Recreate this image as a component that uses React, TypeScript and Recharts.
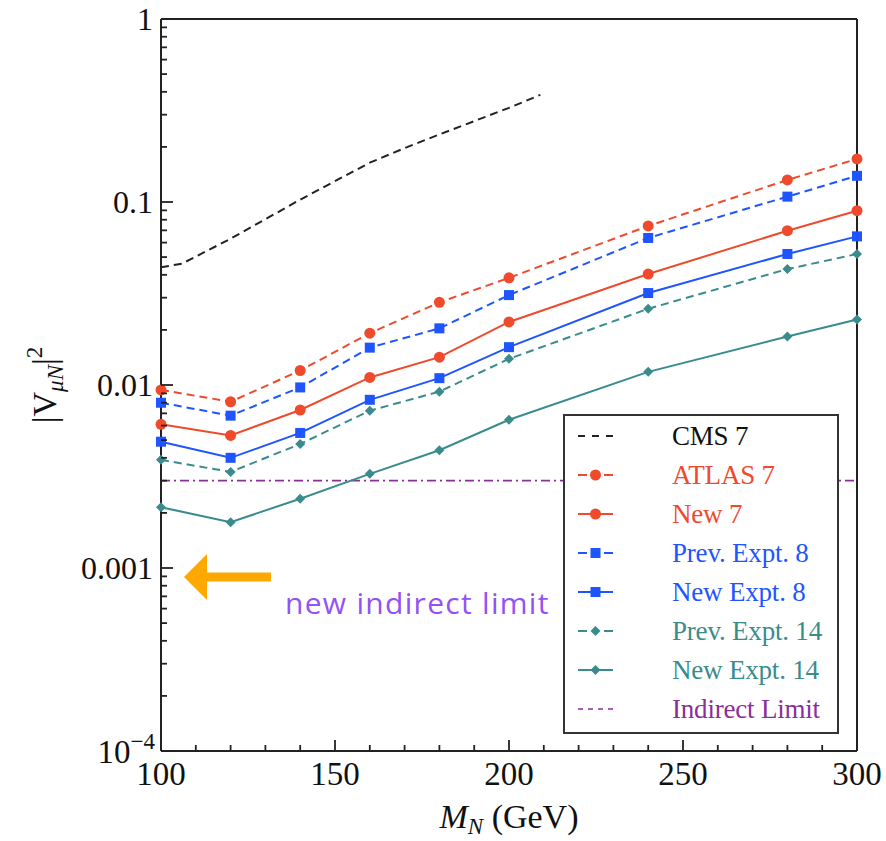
import React from "react";
import { LineChart, Line, XAxis, YAxis, ReferenceLine } from "recharts";

const SERIF = '"Liberation Serif", "Times New Roman", serif';
const AXIS_CLR = "#222";
const RED = "#EF4A2C";
const BLUE = "#1F55FF";
const TEAL = "#3A8C8C";
const PURPLE = "#8A2E99";

// heavy neutrino mass points (GeV)
const MASSES = [100, 120, 140, 160, 180, 200, 240, 280, 300];
const ATLAS_7 = [0.0094, 0.0081, 0.012, 0.0192, 0.0283, 0.0385, 0.074, 0.132, 0.172];
const NEW_7 = [0.0061, 0.0053, 0.0073, 0.011, 0.0142, 0.0221, 0.0404, 0.0697, 0.0896];
const PREV_8 = [0.008, 0.0068, 0.0097, 0.016, 0.0204, 0.031, 0.0636, 0.107, 0.139];
const NEW_8 = [0.0049, 0.004, 0.00547, 0.0083, 0.0109, 0.0161, 0.0318, 0.052, 0.0649];
const PREV_14 = [0.0039, 0.00335, 0.00476, 0.00724, 0.0092, 0.0139, 0.0261, 0.043, 0.052];
const NEW_14 = [0.00215, 0.00178, 0.00239, 0.00327, 0.0044, 0.00646, 0.0118, 0.0184, 0.0228];

const CMS_MASSES = [100, 106, 120, 140, 160, 170, 180, 200, 209];
const CMS_7 = [0.044, 0.046, 0.063, 0.103, 0.164, 0.197, 0.234, 0.327, 0.385];

const INDIRECT_LIMIT = 0.003;

const X_MAJOR = [100, 150, 200, 250, 300];
const X_MINOR_STEP = 10;
const Y_MAJOR = [1e-4, 0.001, 0.01, 0.1, 1];
const Y_LABELS = ["10^-4", "0.001", "0.01", "0.1", "1"];

const xTicks: number[] = [];
for (let m = X_MAJOR[0]; m <= X_MAJOR[X_MAJOR.length - 1]; m += X_MINOR_STEP) xTicks.push(m);

const yTicks: number[] = [];
Y_MAJOR.forEach((d, i) => {
  if (i === Y_MAJOR.length - 1) {
    yTicks.push(d);
    return;
  }
  for (let k = 1; k < 10; k++) yTicks.push(+(d * k).toPrecision(3));
});

const yMajorIndex = (v: number) => Y_MAJOR.findIndex((t) => Math.abs(t - v) / t < 1e-6);

const toPoints = (xs: number[], ys: number[]) => xs.map((m, i) => ({ m, v: ys[i] }));

const SERIES = [
  { name: "CMS 7", xs: CMS_MASSES, ys: CMS_7, color: "#222", text: "#111", dashed: true, shape: "" },
  { name: "ATLAS 7", xs: MASSES, ys: ATLAS_7, color: RED, text: RED, dashed: true, shape: "circle" },
  { name: "New 7", xs: MASSES, ys: NEW_7, color: RED, text: RED, dashed: false, shape: "circle" },
  { name: "Prev. Expt. 8", xs: MASSES, ys: PREV_8, color: BLUE, text: BLUE, dashed: true, shape: "square" },
  { name: "New Expt. 8", xs: MASSES, ys: NEW_8, color: BLUE, text: BLUE, dashed: false, shape: "square" },
  { name: "Prev. Expt. 14", xs: MASSES, ys: PREV_14, color: TEAL, text: TEAL, dashed: true, shape: "diamond" },
  { name: "New Expt. 14", xs: MASSES, ys: NEW_14, color: TEAL, text: TEAL, dashed: false, shape: "diamond" },
];

const Marker = ({ shape, cx, cy, color }: any) => {
  if (shape === "circle") return <circle cx={cx} cy={cy} r={5.5} fill={color} />;
  if (shape === "square") return <rect x={cx - 5} y={cy - 5} width={10} height={10} fill={color} />;
  if (shape === "diamond")
    return (
      <polygon
        points={`${cx},${cy - 5} ${cx + 5},${cy} ${cx},${cy + 5} ${cx - 5},${cy}`}
        fill={color}
      />
    );
  return null;
};

const LeftTick = (props: any) => {
  const { x, y, payload } = props;
  const idx = yMajorIndex(payload.value);
  const label = idx >= 0 ? Y_LABELS[idx] : "";
  return (
    <g>
      <line x1={x} x2={x + (idx >= 0 ? 12 : 6)} y1={y} y2={y} stroke={AXIS_CLR} strokeWidth={1.8} />
      {label.startsWith("10^") ? (
        <text x={x - 6} y={y} dy={12} textAnchor="end" fontFamily={SERIF} fontSize={33} fill="#111">
          <tspan>10</tspan>
          <tspan dy={-14} fontSize={23}>
            {"\u2212" + label.slice(4)}
          </tspan>
        </text>
      ) : label ? (
        <text x={x - 8} y={y} dy={11} textAnchor="end" fontFamily={SERIF} fontSize={32} fill="#111">
          {label}
        </text>
      ) : null}
    </g>
  );
};

const RightTick = (props: any) => {
  const { x, y, payload } = props;
  const major = yMajorIndex(payload.value) >= 0;
  return <line x1={x} x2={x - (major ? 12 : 6)} y1={y} y2={y} stroke={AXIS_CLR} strokeWidth={1.8} />;
};

const BottomTick = (props: any) => {
  const { x, y, payload } = props;
  const major = X_MAJOR.includes(payload.value);
  return (
    <g>
      <line x1={x} x2={x} y1={y} y2={y - (major ? 11 : 6)} stroke={AXIS_CLR} strokeWidth={1.8} />
      {major && (
        <text x={x} y={y + 34} textAnchor="middle" fontFamily={SERIF} fontSize={33} fill="#111">
          {payload.value}
        </text>
      )}
    </g>
  );
};

const TopTick = (props: any) => {
  const { x, y, payload } = props;
  const major = X_MAJOR.includes(payload.value);
  return <line x1={x} x2={x} y1={y} y2={y + (major ? 11 : 6)} stroke={AXIS_CLR} strokeWidth={1.8} />;
};

const axisLine = { stroke: AXIS_CLR, strokeWidth: 2 };

const LEGEND_TOP = 436;
const LEGEND_STEP = 39;

const LegendBox = () => {
  const rows = [
    ...SERIES.map((s) => ({ name: s.name, color: s.color, text: s.text, dashed: s.dashed, shape: s.shape, kind: "series" })),
    { name: "Indirect Limit", color: PURPLE, text: PURPLE, dashed: true, shape: "", kind: "limit" },
  ];
  return (
    <g>
      <rect x={564} y={415} width={274} height={318} fill="#fff" stroke="#333" strokeWidth={2} />
      {rows.map((r, i) => {
        const cy = LEGEND_TOP + i * LEGEND_STEP;
        let swatch;
        if (r.kind === "limit") {
          swatch = <line x1={578} x2={613} y1={cy} y2={cy} stroke={r.color} strokeWidth={1.6} strokeDasharray="5 5" />;
        } else if (!r.shape) {
          swatch = <line x1={578} x2={613} y1={cy} y2={cy} stroke={r.color} strokeWidth={2} strokeDasharray="7 7" />;
        } else if (r.dashed) {
          swatch = (
            <g>
              <line x1={578} x2={587} y1={cy} y2={cy} stroke={r.color} strokeWidth={2} />
              <line x1={604} x2={613} y1={cy} y2={cy} stroke={r.color} strokeWidth={2} />
              <Marker shape={r.shape} cx={595.5} cy={cy} color={r.color} />
            </g>
          );
        } else {
          swatch = (
            <g>
              <line x1={578} x2={613} y1={cy} y2={cy} stroke={r.color} strokeWidth={2} />
              <Marker shape={r.shape} cx={595.5} cy={cy} color={r.color} />
            </g>
          );
        }
        return (
          <g key={r.name}>
            {swatch}
            <text x={672} y={cy + 9} fontFamily={SERIF} fontSize={27} fill={r.text} letterSpacing={-0.2}>
              {r.name}
            </text>
          </g>
        );
      })}
    </g>
  );
};

export default function App() {
  return (
    <div style={{ position: "absolute", left: 0, top: 0, width: 886, height: 841, background: "#fff" }}>
      <LineChart width={886} height={841} margin={{ top: 9, right: 19, bottom: 30, left: 61 }}>
        <XAxis
          xAxisId="b"
          type="number"
          dataKey="m"
          domain={[100, 300]}
          ticks={xTicks}
          interval={0}
          height={60}
          tickLine={false}
          tickSize={0}
          tickMargin={0}
          axisLine={axisLine}
          tick={(p: any) => <BottomTick {...p} />}
        />
        <XAxis
          xAxisId="t"
          orientation="top"
          type="number"
          dataKey="m"
          domain={[100, 300]}
          ticks={xTicks}
          interval={0}
          height={10}
          tickLine={false}
          tickSize={0}
          tickMargin={0}
          axisLine={axisLine}
          tick={(p: any) => <TopTick {...p} />}
        />
        <YAxis
          yAxisId="l"
          scale="log"
          domain={[1e-4, 1]}
          ticks={yTicks}
          interval={0}
          width={100}
          tickLine={false}
          tickSize={0}
          tickMargin={0}
          axisLine={axisLine}
          tick={(p: any) => <LeftTick {...p} />}
        />
        <YAxis
          yAxisId="r"
          orientation="right"
          scale="log"
          domain={[1e-4, 1]}
          ticks={yTicks}
          interval={0}
          width={10}
          tickLine={false}
          tickSize={0}
          tickMargin={0}
          axisLine={axisLine}
          tick={(p: any) => <RightTick {...p} />}
        />
        <ReferenceLine
          xAxisId="b"
          yAxisId="l"
          y={INDIRECT_LIMIT}
          stroke={PURPLE}
          strokeWidth={1.8}
          strokeDasharray="9 4 2 4"
        />
        {SERIES.map((s) => (
          <Line
            key={s.name}
            xAxisId="b"
            yAxisId="l"
            data={toPoints(s.xs, s.ys)}
            dataKey="v"
            name={s.name}
            stroke={s.color}
            strokeWidth={2}
            strokeDasharray={s.dashed ? "8 5" : undefined}
            dot={(p: any) => <Marker key={`${s.name}-${p.index}`} shape={s.shape} cx={p.cx} cy={p.cy} color={s.color} />}
            activeDot={false}
            isAnimationActive={false}
          />
        ))}
      </LineChart>
      <svg
        width={886}
        height={841}
        style={{ position: "absolute", left: 0, top: 0, pointerEvents: "none" }}
      >
        <LegendBox />
        {/* annotation arrow */}
        <polygon points="184,577 207,554 207,572.5 271,572.5 271,581.5 207,581.5 207,600" fill="#FFA800" />
        <text x={285} y={614} fontFamily="'Open Sans', Lato, sans-serif" fontSize={30} fill="#9252F5" letterSpacing={1.3}>
          new indirect limit
        </text>
        {/* axis titles */}
        <text x={509} y={828} textAnchor="middle" fontFamily={SERIF} fontSize={34} fill="#111">
          <tspan fontStyle="italic">M</tspan>
          <tspan fontStyle="italic" fontSize={23} dy={6}>
            N
          </tspan>
          <tspan dy={-6}> (GeV)</tspan>
        </text>
        <text
          transform="translate(56,385) rotate(-90)"
          textAnchor="middle"
          fontFamily={SERIF}
          fontSize={34}
          fill="#111"
        >
          <tspan>|V</tspan>
          <tspan fontStyle="italic" fontSize={23} dy={7}>
            μN
          </tspan>
          <tspan dy={-7}>|</tspan>
          <tspan fontSize={23} dy={-14}>
            2
          </tspan>
        </text>
      </svg>
    </div>
  );
}
